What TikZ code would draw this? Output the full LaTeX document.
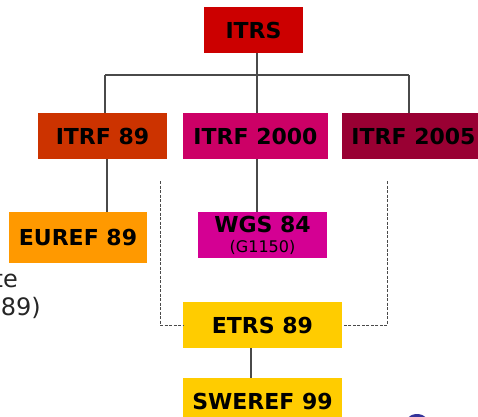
\documentclass[tikz,border=0pt]{standalone}
\usepackage{fontspec}
\setmainfont{DejaVu Sans}
\definecolor{cITRS}{HTML}{CC0000}
\definecolor{cITRFa}{HTML}{CC3300}
\definecolor{cITRFb}{HTML}{CC0066}
\definecolor{cITRFc}{HTML}{990033}
\definecolor{cEUREF}{HTML}{FF9900}
\definecolor{cWGS}{HTML}{D40093}
\definecolor{cETRS}{HTML}{FFCC00}
\definecolor{cLine}{HTML}{4A4A4A}
\definecolor{cBlue}{HTML}{34349A}
\begin{document}
\begin{tikzpicture}[x=1pt,y=-1pt,
  frame/.style={fill=#1, draw=none, inner sep=0pt, text=black,
    font=\bfseries\fontsize{22}{26}\selectfont, align=center},
  conn/.style={draw=cLine, line width=1.1pt},
  dconn/.style={draw=cLine, line width=1pt, dash pattern=on 3pt off 1.5pt},
  side/.style={inner sep=0pt, font=\fontsize{24}{28}\selectfont, text=black!85}]
\useasboundingbox (0,0) rectangle (478,416);
\clip (0,0) rectangle (478,416);
\fill[white] (0,0) rectangle (478,416);

\node[frame=cITRS, minimum width=99pt, minimum height=46pt] (itrs) at (253.5,30) {ITRS};
\node[frame=cITRFa, minimum width=129pt, minimum height=46pt] (itrf89) at (102.5,136) {ITRF 89};
\node[frame=cITRFb, minimum width=145pt, minimum height=46pt] (itrf2000) at (255.5,136) {ITRF 2000};
\node[frame=cITRFc, minimum width=143pt, minimum height=46pt] (itrf2005) at (413.5,136) {ITRF 2005};
\node[frame=cEUREF, minimum width=138pt, minimum height=51pt] (euref) at (78,237.5) {EUREF 89};
\node[frame=cWGS, minimum width=129pt, minimum height=46pt] (wgs) at (262.5,235)
  {WGS 84\\[-6pt]{\mdseries\fontsize{16}{18}\selectfont (G1150)}};
\node[frame=cETRS, minimum width=159pt, minimum height=46pt] (etrs) at (262.5,325) {ETRS 89};
\node[frame=cETRS, minimum width=159pt, minimum height=46pt] (sweref) at (262.5,401) {SWEREF 99};

\node[side, anchor=base east] (t1) at (18,287) {te};
\node[side, anchor=base east] (t2) at (41,315) {89)};

\coordinate (bus) at (257,75);
\coordinate (busL) at (105,75);
\coordinate (busR) at (409,75);
\coordinate (c89) at (107,0);
\coordinate (cetrs) at (251,0);
\coordinate (dl) at (160,181);
\coordinate (dr) at (387,181);

\draw[conn] (itrs.south -| bus) -- (itrf2000.north -| bus);
\draw[conn] (busL) -- (busR);
\draw[conn] (busL) -- (busL |- itrf89.north);
\draw[conn] (busR) -- (busR |- itrf2005.north);
\draw[conn] (itrf89.south -| c89) -- (euref.north -| c89);
\draw[conn] (itrf2000.south -| bus) -- (wgs.north -| bus);
\draw[conn] (etrs.south -| cetrs) -- (sweref.north -| cetrs);
\draw[dconn] (dl) |- (etrs.west);
\draw[dconn] (dr) |- (etrs.east);

\fill[cBlue] (417,428) circle (14pt);
\end{tikzpicture}
\end{document}
